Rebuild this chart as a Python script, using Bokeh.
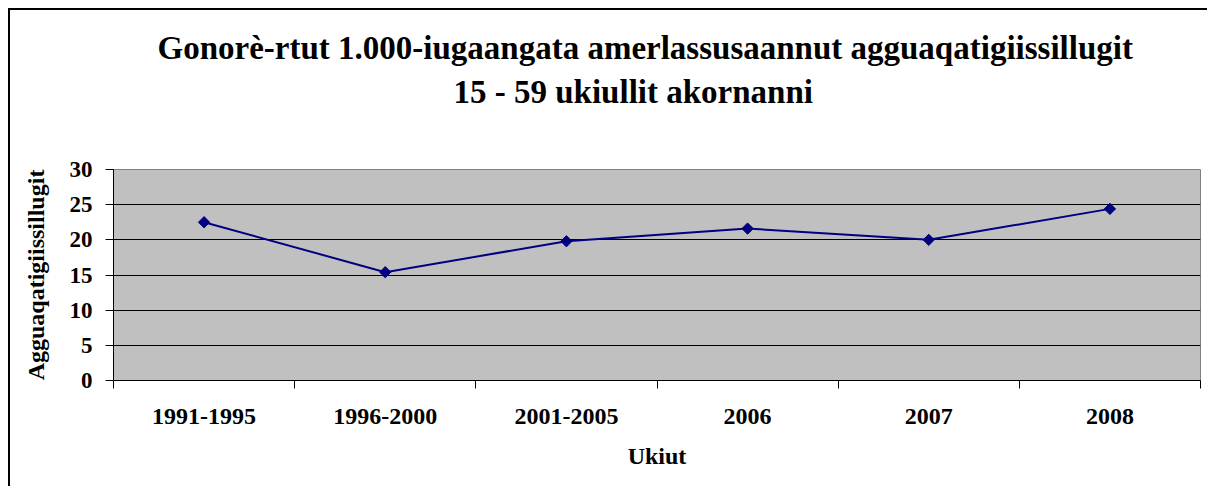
import math
from bokeh.plotting import figure
from bokeh.models import Range1d, FixedTicker, Title
from bokeh.embed import file_html
from bokeh.resources import INLINE

categories = ["1991-1995", "1996-2000", "2001-2005", "2006", "2007", "2008"]
values = [22.5, 15.4, 19.8, 21.6, 20.0, 24.4]
y_ticks = [0, 5, 10, 15, 20, 25, 30]
title_line1 = "Gonorè-rtut 1.000-iugaangata amerlassusaannut agguaqatigiissillugit"
title_line2 = "15 - 59 ukiullit akornanni"
x_label = "Ukiut"
y_label = "Agguaqatigiissillugit"

FONT = "Liberation Serif"

xs = [i + 0.5 for i in range(len(categories))]

p = figure(width=1199, height=478, output_backend="svg", toolbar_location=None,
           x_range=Range1d(0, len(categories)), y_range=Range1d(0, 30),
           min_border_left=103, min_border_right=9, min_border_top=159,
           min_border_bottom=108)
p.styles = {"margin-left": "8px", "margin-top": "8px",
            "border-left": "2px solid black", "border-top": "2px solid black"}
p.background_fill_color = "#C0C0C0"
p.border_fill_color = "white"
p.outline_line_color = "#808080"
p.outline_line_width = 1

# x axis
p.xaxis.ticker = FixedTicker(ticks=xs, minor_ticks=list(range(len(categories) + 1)))
p.xaxis.major_label_overrides = {x: c for x, c in zip(xs, categories)}
p.xaxis.major_tick_out = 0
p.xaxis.major_tick_in = 0
p.xaxis.minor_tick_out = 8
p.xaxis.minor_tick_in = 0
p.xaxis.minor_tick_line_color = "black"
p.xaxis.axis_line_color = "black"
p.xaxis.major_label_text_font = FONT
p.xaxis.major_label_text_font_style = "bold"
p.xaxis.major_label_text_font_size = "24px"
p.xaxis.major_label_text_color = "black"
p.xaxis.major_label_standoff = 20
p.xaxis.axis_label = x_label
p.xaxis.axis_label_text_font = FONT
p.xaxis.axis_label_text_font_style = "bold"
p.xaxis.axis_label_text_font_size = "24px"
p.xaxis.axis_label_text_color = "black"
p.xaxis.axis_label_standoff = 16

# y axis
p.yaxis.ticker = FixedTicker(ticks=y_ticks)
p.yaxis.major_tick_out = 8
p.yaxis.major_tick_in = 0
p.yaxis.minor_tick_line_color = None
p.yaxis.axis_line_color = "black"
p.yaxis.major_tick_line_color = "black"
p.yaxis.major_label_text_font = FONT
p.yaxis.major_label_text_font_style = "bold"
p.yaxis.major_label_text_font_size = "23px"
p.yaxis.major_label_text_color = "black"
p.yaxis.major_label_standoff = 13
p.yaxis.axis_label = y_label
p.yaxis.axis_label_text_font = FONT
p.yaxis.axis_label_text_font_style = "bold"
p.yaxis.axis_label_text_font_size = "24px"
p.yaxis.axis_label_text_color = "black"
p.yaxis.axis_label_standoff = 18

p.xgrid.grid_line_color = None
p.ygrid.ticker = FixedTicker(ticks=y_ticks[1:-1])
p.ygrid.grid_line_color = "black"
p.ygrid.grid_line_width = 1

p.line(xs, values, line_color="#000080", line_width=2)
p.scatter(xs, values, marker="square", angle=math.pi / 4, size=8,
          fill_color="#000080", line_color="#000080")

# titles: first added sits nearest the frame; a blank spacer keeps the
# two title lines up at the top of the chart
p.add_layout(Title(text=" ", text_font=FONT, text_font_size="10px",
                   standoff=44), "above")
p.add_layout(Title(text=title_line2, align="left", offset=340,
                   text_font=FONT, text_font_style="bold",
                   text_font_size="33px", text_color="black", standoff=6), "above")
p.add_layout(Title(text=title_line1, align="left", offset=44,
                   text_font=FONT, text_font_style="bold",
                   text_font_size="33px", text_color="black", standoff=6), "above")

open("out.html", "w").write(file_html(p, INLINE))
